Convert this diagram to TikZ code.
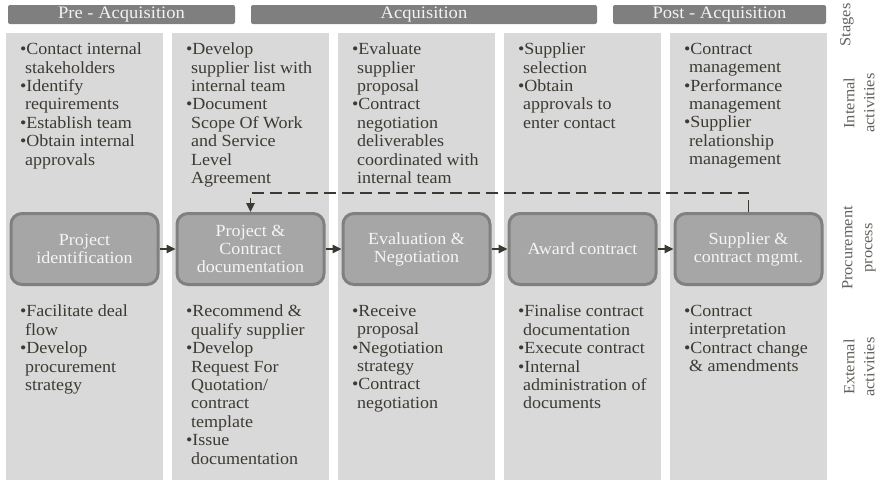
\documentclass[tikz,border=0pt]{standalone}
\usepackage{fontspec}
\setmainfont{Liberation Serif}[FakeStretch=1.06]
\usetikzlibrary{positioning}
\usetikzlibrary{arrows.meta,calc}
\definecolor{colgray}{HTML}{D9D9D9}
\definecolor{procgray}{HTML}{A6A6A6}
\definecolor{edgegray}{HTML}{808080}
\definecolor{stagegray}{HTML}{7F7F7F}
\definecolor{darktext}{HTML}{3D3A33}
\definecolor{arrowdark}{HTML}{3B3931}
\tikzset{
    %Define standard arrow tip
    >={Triangle[length=9pt,width=8.5pt]},
    % Define arrow style
    flow/.style={
           ->,
           line width=1.6pt,
           color=arrowdark,
           shorten <=1.5pt,
           shorten >=1.5pt,},
    % Dashed return line
    back/.style={
           ->,
           line width=1.6pt,
           color=arrowdark,
           dash pattern=on 12pt off 6pt,
           shorten <=1.5pt,
           shorten >=1.5pt,}
}
\newcommand{\colwidth}{157pt}
\newcommand{\colheight}{447pt}
\newcommand{\procwidth}{147pt}
\newcommand{\procheight}{71pt}
\newcommand{\nxl}{\\\hspace*{5pt}}

\begin{document}
\begin{tikzpicture}[x=1pt, y=-1pt, node distance=0pt, outer sep=0pt]
\tikzstyle{col}=[rectangle, fill=colgray, minimum width=\colwidth, minimum height=\colheight, inner sep=0pt, anchor=north west]
\tikzstyle{stage}=[rectangle, rounded corners=2pt, fill=stagegray, text=white!95!black, minimum height=19pt, inner sep=0pt, font=\fontsize{17.5}{17.5}\selectfont]
\tikzstyle{proc}=[draw=edgegray, line width=3pt, rectangle, rounded corners=11pt, fill=procgray, minimum width=\procwidth, minimum height=\procheight, text=white!96!black, align=center, font=\fontsize{17}{18}\selectfont]
\tikzstyle{act}=[align=left, inner sep=0pt, text=darktext, font=\fontsize{17}{18.4}\selectfont]
\tikzstyle{side}=[rotate=90, align=center, inner sep=0pt, text=darktext!80, font=\fontsize{15.5}{20}\selectfont]

\useasboundingbox (0,0) rectangle (888,482);

% columns
\node[col] (col0) at (6,33) {};
\node[col] (col1) [right = 9pt of col0] {};
\node[col] (col2) [right = 9pt of col1] {};
\node[col] (col3) [right = 9pt of col2] {};
\node[col] (col4) [right = 9pt of col3] {};

% stages
\node[stage, minimum width=227pt] (pre)  at (121.5,14.5) {Pre - Acquisition};
\node[stage, minimum width=346pt] (acq)  at (424,14.5)   {Acquisition};
\node[stage, minimum width=213pt] (post) at (719.5,14.5) {Post - Acquisition};

% internal activities
\node[act] (int0) [below right = 10pt and 14pt of col0.north west] {\textbullet Contact internal\nxl stakeholders\\\textbullet Identify\nxl requirements\\\textbullet Establish team\\\textbullet Obtain internal\nxl approvals};
\node[act] (int1) [below right = 10pt and 14pt of col1.north west] {\textbullet Develop\nxl supplier list with\nxl internal team\\\textbullet Document\nxl Scope Of  Work\nxl and Service\nxl Level\nxl Agreement};
\node[act] (int2) [below right = 10pt and 14pt of col2.north west] {\textbullet Evaluate\nxl supplier\nxl proposal\\\textbullet Contract\nxl negotiation\nxl deliverables\nxl coordinated with\nxl internal team};
\node[act] (int3) [below right = 10pt and 14pt of col3.north west] {\textbullet Supplier\nxl selection\\\textbullet Obtain\nxl approvals to\nxl enter contact};
\node[act] (int4) [below right = 10pt and 14pt of col4.north west] {\textbullet Contract\nxl management\\\textbullet Performance\nxl management\\\textbullet Supplier\nxl relationship\nxl management};

% procurement process
\node[proc] (proc0) at (col0 |- 0,249) {Project\\identification};
\node[proc] (proc1) at (col1 |- 0,249) {Project \&\\Contract\\documentation};
\node[proc] (proc2) at (col2 |- 0,249) {Evaluation \&\\Negotiation};
\node[proc] (proc3) at (col3 |- 0,249) {Award contract};
\node[proc] (proc4) at (col4 |- 0,249) {Supplier \&\\contract mgmt.};

\path[flow] (proc0.east) edge (proc1.west);
\path[flow] (proc1.east) edge (proc2.west);
\path[flow] (proc2.east) edge (proc3.west);
\path[flow] (proc3.east) edge (proc4.west);

\coordinate (turn) at (proc4.north |- 0,193);
\draw[back] (proc4.north) -- (turn) -| (proc1.north);

% external activities
\node[act] (ext0) [below right = 272pt and 14pt of col0.north west] {\textbullet Facilitate deal\nxl flow\\\textbullet Develop\nxl procurement\nxl strategy};
\node[act] (ext1) [below right = 272pt and 14pt of col1.north west] {\textbullet Recommend \&\nxl qualify supplier\\\textbullet Develop\nxl Request For\nxl Quotation/\nxl contract\nxl template\\\textbullet Issue\nxl documentation};
\node[act] (ext2) [below right = 272pt and 14pt of col2.north west] {\textbullet Receive\nxl proposal\\\textbullet Negotiation\nxl strategy\\\textbullet Contract\nxl negotiation};
\node[act] (ext3) [below right = 272pt and 14pt of col3.north west] {\textbullet Finalise contract\nxl documentation\\\textbullet Execute contract\\\textbullet Internal\nxl administration of\nxl documents};
\node[act] (ext4) [below right = 272pt and 14pt of col4.north west] {\textbullet Contract\nxl interpretation\\\textbullet Contract change\nxl \& amendments};

% row labels
\node[side] (lstage) at (847,25)  {Stages};
\node[side] (lint)   at (859,103) {Internal\\activities};
\node[side] (lproc)  at (859,248) {Procurement\\process};
\node[side] (lext)   at (859,367) {External\\activities};

\end{tikzpicture}
\end{document}
